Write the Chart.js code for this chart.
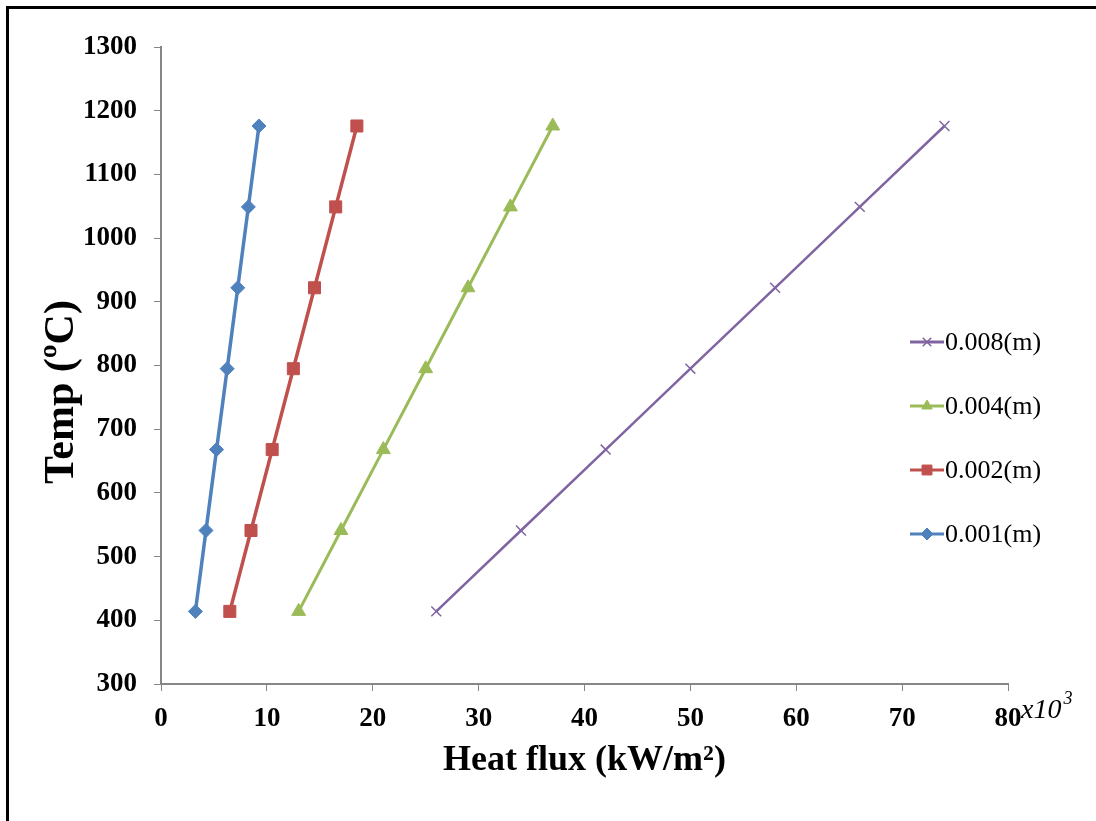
<!DOCTYPE html>
<html>
<head>
<meta charset="utf-8">
<script src="https://cdn.jsdelivr.net/npm/chart.js@4.4.0/dist/chart.umd.min.js"></script>
<style>
  body { margin: 0; background: #fff; overflow: hidden; }
  #wrap { position: relative; width: 1096px; height: 821px; }
  #frame { position: absolute; left: 6px; top: 6px; width: 2000px; height: 2000px;
           border-left: 3px solid #000; border-top: 3px solid #000; pointer-events: none; }
</style>
</head>
<body>
<div id="wrap">
  <canvas id="chart" width="1096" height="821"></canvas>
  <div id="frame"></div>
</div>
<script>
// temperature levels (y) shared by all series
const temps = [414, 541, 668, 795, 922, 1049, 1176];

// heat flux values (x10^3 kW/m2) for each thickness
const flux001 = [3.25, 4.25, 5.25, 6.25, 7.25, 8.25, 9.25];
const flux002 = [6.5, 8.5, 10.5, 12.5, 14.5, 16.5, 18.5];
const flux004 = [13, 17, 21, 25, 29, 33, 37];
const flux008 = [26, 34, 42, 50, 58, 66, 74];

const seriesLabels = ['0.001(m)', '0.002(m)', '0.004(m)', '0.008(m)'];
const xTicks = [0, 10, 20, 30, 40, 50, 60, 70, 80];
const yTicks = [300, 400, 500, 600, 700, 800, 900, 1000, 1100, 1200, 1300];

const serif = "'Liberation Serif', 'Times New Roman', serif";
const axisGray = '#868686';

function toPoints(xs) {
    return xs.map((x, i) => ({ x: x, y: temps[i] }));
}

function makeSet(label, xs, color, style, radius, width) {
    return {
        label: label,
        data: toPoints(xs),
        borderColor: color,
        backgroundColor: color,
        borderWidth: width,
        pointStyle: style,
        pointRadius: radius,
        pointHoverRadius: radius,
        pointBorderWidth: style === 'crossRot' ? 1.5 : 1,
        pointBorderColor: color,
        pointBackgroundColor: color,
        tension: 0,
        fill: false
    };
}

// legend drawn on the right side, last series first
const sideLegend = {
    id: 'sideLegend',
    afterDraw(chart) {
        const ctx = chart.ctx;
        const sets = chart.data.datasets.slice().reverse();
        ctx.save();
        sets.forEach((ds, i) => {
            const y = 342 + i * 64;
            ctx.strokeStyle = ds.borderColor;
            ctx.fillStyle = ds.backgroundColor;
            ctx.lineWidth = 3;
            ctx.beginPath();
            ctx.moveTo(910, y);
            ctx.lineTo(944, y);
            ctx.stroke();
            ctx.lineWidth = ds.pointBorderWidth;
            Chart.helpers.drawPoint(ctx, {
                pointStyle: ds.pointStyle,
                radius: ds.pointStyle === 'rect' ? 7 : 6,
                borderWidth: ds.pointBorderWidth,
                rotation: 0
            }, 927, y);
            ctx.fillStyle = '#000';
            ctx.font = '26px ' + serif;
            ctx.textBaseline = 'middle';
            ctx.textAlign = 'left';
            ctx.fillText(ds.label, 945, y + 1);
        });

        // multiplier note at the end of the x axis
        ctx.fillStyle = '#000';
        ctx.textBaseline = 'alphabetic';
        ctx.font = 'italic 28px ' + serif;
        ctx.fillText('x10', 1021, 718);
        const w = ctx.measureText('x10').width;
        ctx.font = 'italic 18px ' + serif;
        ctx.fillText('3', 1021 + w + 2, 704);

        // y axis title, a little below the middle of the axis
        ctx.translate(62, 392);
        ctx.rotate(-Math.PI / 2);
        ctx.font = 'bold 42px ' + serif;
        ctx.textAlign = 'center';
        ctx.textBaseline = 'middle';
        ctx.fillText('Temp (ºC)', 0, 0);
        ctx.restore();
    }
};

const ctx = document.getElementById('chart').getContext('2d');
new Chart(ctx, {
    type: 'line',
    data: {
        datasets: [
            makeSet(seriesLabels[0], flux001, '#4F81BD', 'rectRot', 7, 3.5),
            makeSet(seriesLabels[1], flux002, '#C0504D', 'rect', 8.5, 3.5),
            makeSet(seriesLabels[2], flux004, '#9BBB59', 'triangle', 8, 3),
            makeSet(seriesLabels[3], flux008, '#8064A2', 'crossRot', 7, 2.5)
        ]
    },
    options: {
        responsive: false,
        devicePixelRatio: 1,
        animation: false,
        layout: { padding: { left: 0, right: 88, top: 47, bottom: 0 } },
        plugins: {
            legend: { display: false },
            tooltip: { enabled: false }
        },
        scales: {
            x: {
                type: 'linear',
                min: 0,
                max: 80,
                afterBuildTicks(scale) { scale.ticks = xTicks.map(v => ({ value: v })); },
                afterFit(scale) { scale.height = 137; },
                grid: { display: true, drawOnChartArea: false, drawTicks: true, tickLength: 7, color: axisGray, lineWidth: 1 },
                border: { display: true, color: axisGray, width: 2 },
                ticks: {
                    color: '#000', padding: 12, maxRotation: 0,
                    font: { family: serif, size: 27, weight: 'bold' },
                    callback: v => String(v)
                },
                title: {
                    display: true,
                    text: 'Heat flux (kW/m²)',
                    color: '#000',
                    font: { family: serif, size: 36, weight: 'bold' },
                    padding: { top: 0, bottom: 39 }
                }
            },
            y: {
                type: 'linear',
                min: 300,
                max: 1300,
                afterBuildTicks(scale) { scale.ticks = yTicks.map(v => ({ value: v })); },
                afterFit(scale) { scale.width = 161; },
                grid: { display: true, drawOnChartArea: false, drawTicks: true, tickLength: 7, color: axisGray, lineWidth: 1 },
                border: { display: true, color: axisGray, width: 2 },
                ticks: {
                    color: '#000', padding: 17,
                    font: { family: serif, size: 27, weight: 'bold' },
                    callback: v => String(v)
                },
                title: { display: false }
            }
        }
    },
    plugins: [sideLegend]
});
</script>
</body>
</html>
